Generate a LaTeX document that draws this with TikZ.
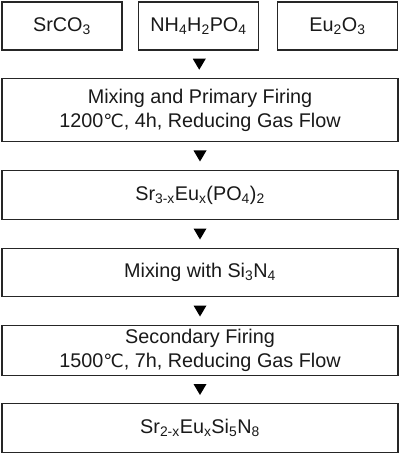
\documentclass[tikz,border=0pt]{standalone}
\usepackage{fontspec}
\setmainfont{Liberation Sans}
\newfontfamily\symfnt{DejaVu Sans}[Scale=0.92]
\usetikzlibrary{calc}
\newcommand\sbs[1]{\textsubscript{#1}}
\newcommand\degc{{\symfnt ℃}}
\tikzset{
  box/.style={draw=black!85, line width=1.2pt, minimum height=48pt, inner sep=0pt, align=center,
    font=\fontsize{19.8}{24}\selectfont, text=black!90},
  tri/.style={fill=black}
}
\begin{document}
\begin{tikzpicture}[x=1pt,y=-1pt]
\useasboundingbox (0,0) rectangle (400,454);
\node[box, minimum width=120pt] (a) at (62,26) {SrCO\sbs{3}};
\node[box, minimum width=120pt] (b) at (198.5,26) {NH\sbs{4}H\sbs{2}PO\sbs{4}};
\node[box, minimum width=120pt] (c) at (337.5,26) {Eu\sbs{2}O\sbs{3}};
\node[box, minimum width=396pt, minimum height=63pt] (d) at (200,110) {Mixing and Primary Firing\\1200\degc, 4h, Reducing Gas Flow};
\node[box, minimum width=396pt, minimum height=49pt] (e) at (200,195) {Sr\sbs{3-x}Eu\sbs{x}(PO\sbs{4})\sbs{2}};
\node[box, minimum width=396pt, minimum height=48pt] (f) at (200,272.5) {Mixing with Si\sbs{3}N\sbs{4}};
\node[box, minimum width=396pt, minimum height=50pt] (g) at (200,350.5) {Secondary Firing\\1500\degc, 7h, Reducing Gas Flow};
\node[box, minimum width=396pt, minimum height=49pt] (h) at (200,428) {Sr\sbs{2-x}Eu\sbs{x}Si\sbs{5}N\sbs{8}};
\foreach \u/\v in {b/d,d/e,e/f,f/g,g/h}{
  \coordinate (m) at ($(\u.south)!0.5!(\v.north)$);
  \fill[tri] ($(m)+(-6.5,-5.5)$) -- ($(m)+(6.5,-5.5)$) -- ($(m)+(0,5.5)$) -- cycle;
}
\end{tikzpicture}
\end{document}
